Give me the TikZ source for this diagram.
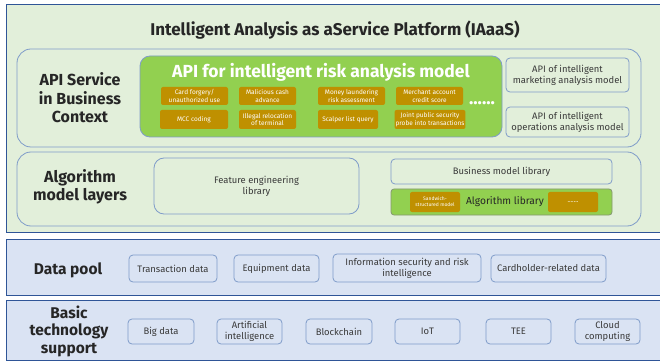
\documentclass[tikz,border=0pt]{standalone}
\usepackage{fontspec}
\setmainfont{Fira Sans}
\definecolor{pgreen}{HTML}{E2EFDA}
\definecolor{pblue}{HTML}{DAE3F3}
\definecolor{dblue}{HTML}{2F5597}
\definecolor{sblue}{HTML}{7F9CC9}
\definecolor{lgreen}{HTML}{92D050}
\definecolor{ochre}{HTML}{BF9000}
\definecolor{tdark}{HTML}{262626}
\definecolor{tgray}{HTML}{3A3A3A}
\tikzset{
  panelg/.style={fill=pgreen, draw=dblue, line width=1pt},
  panelb/.style={fill=pblue, draw=dblue, line width=1pt},
  rowbox/.style={draw=sblue, line width=0.8pt, rounded corners=14pt},
  ibox/.style={draw=sblue, line width=0.8pt, rounded corners=4pt, align=center, text=tgray,
    font=\fontsize{9.4}{11}\selectfont, inner sep=1pt},
  obox/.style={fill=ochre, rounded corners=2pt, align=center, text=white,
    font=\fontsize{6.5}{7.5}\selectfont, inner sep=1pt},
  lbl/.style={align=center, text=tdark, font=\bfseries\fontsize{16}{18.5}\selectfont},
}
\begin{document}
\begin{tikzpicture}[x=1pt,y=-1pt]
\useasboundingbox (0,0) rectangle (660,363);
\clip (0,0) rectangle (660,363);
% panels
\draw[panelg] (6,5) rectangle (675,232);
\draw[panelb] (6,239) rectangle (675,295);
\draw[panelb] (6,300) rectangle (675,360);
\node[text=tdark, font=\bfseries\fontsize{17}{20}\selectfont] (title) at (335,30) {Intelligent Analysis as aService Platform (IAaaS)};
% API row
\draw[rowbox] (17,49) rectangle (641,147);
\node[lbl] (apilbl) at (80,98) {API Service\\in Business\\Context};
\draw[fill=lgreen, draw=sblue, line width=0.8pt, rounded corners=10pt] (140,56) rectangle (502,137);
\node[text=white, font=\bfseries\fontsize{17.5}{20}\selectfont] (riskt) at (321,72) {API for intelligent risk analysis model};
\node[obox, minimum width=67pt, minimum height=18pt] (o1) at (194.5,96) {Card forgery/\\unauthorized use};
\node[obox, minimum width=57pt, minimum height=18pt] (o2) at (267.5,96) {Malicious cash\\advance};
\node[obox, minimum width=67pt, minimum height=18pt] (o3) at (351.5,96) {Money laundering\\risk assessment};
\node[obox, minimum width=67pt, minimum height=18pt] (o4) at (429.5,96) {Merchant account\\credit score};
\node[obox, minimum width=68pt, minimum height=19pt] (o5) at (194,119.5) {MCC coding};
\node[obox, minimum width=57pt, minimum height=19pt] (o6) at (267.5,119.5) {Illegal relocation\\of terminal};
\node[obox, minimum width=60pt, minimum height=19pt] (o7) at (348,119.5) {Scalper list query};
\node[obox, minimum width=68pt, minimum height=19pt] (o8) at (430,119.5) {Joint public security\\probe into transactions};
\node[text=white, font=\bfseries\fontsize{18}{20}\selectfont] (dots) at (482,103) {......};
\node[ibox, minimum width=123pt, minimum height=34pt] (mkt) at (567.5,75) {API of intelligent\\marketing analysis model};
\node[ibox, minimum width=123pt, minimum height=30pt] (ops) at (567.5,122) {API of intelligent\\operations analysis model};
% Algorithm row
\draw[rowbox] (17,152) rectangle (641,226);
\node[lbl] (alglbl) at (80,187) {Algorithm\\model layers};
\node[ibox, rounded corners=10pt, minimum width=205pt, minimum height=56pt] (feat) at (256.5,186) {Feature engineering\\library};
\node[ibox, minimum width=221pt, minimum height=25pt] (bml) at (501.5,171.5) {Business model library};
\node[draw=gray!70!lgreen, line width=0.8pt, fill=lgreen, rounded corners=3pt, minimum width=221pt, minimum height=26pt] (alib) at (501.5,202) {};
\node[text=tdark, font=\fontsize{10.2}{12}\selectfont] (alibt) at (505,202) {Algorithm library};
\node[obox, font=\fontsize{5}{6}\selectfont, minimum width=50pt, minimum height=20pt] (sand) at (435,202) {Sandwich-\\structured model};
\node[obox, minimum width=50pt, minimum height=20pt] (adots) at (573,202) {.......};
% Data pool
\node[lbl, font=\bfseries\fontsize{15.5}{18}\selectfont] (dplbl) at (68,270) {Data pool};
\node[ibox, minimum width=88pt, minimum height=27pt] (d1) at (173,268.5) {Transaction data};
\node[ibox, minimum width=85pt, minimum height=27pt] (d2) at (276.5,268.5) {Equipment data};
\node[ibox, minimum width=148pt, minimum height=28pt] (d3) at (407,268) {Information security and risk\\intelligence};
\node[ibox, minimum width=115pt, minimum height=27pt] (d4) at (548.5,268.5) {Cardholder-related data};
% Basic technology
\node[lbl, font=\bfseries\fontsize{15.5}{17.5}\selectfont] (btlbl) at (69,331) {Basic\\technology\\support};
\node[ibox, minimum width=66pt, minimum height=25pt] (b1) at (161,331.5) {Big data};
\node[ibox, minimum width=65pt, minimum height=25pt] (b2) at (249.5,331.5) {Artificial\\intelligence};
\node[ibox, minimum width=66pt, minimum height=25pt] (b3) at (339,331.5) {Blockchain};
\node[ibox, minimum width=65pt, minimum height=25pt] (b4) at (427.5,331.5) {IoT};
\node[ibox, minimum width=65pt, minimum height=25pt] (b5) at (518.5,331.5) {TEE};
\node[ibox, minimum width=65pt, minimum height=25pt] (b6) at (607.5,331.5) {Cloud\\computing};
\end{tikzpicture}
\end{document}
